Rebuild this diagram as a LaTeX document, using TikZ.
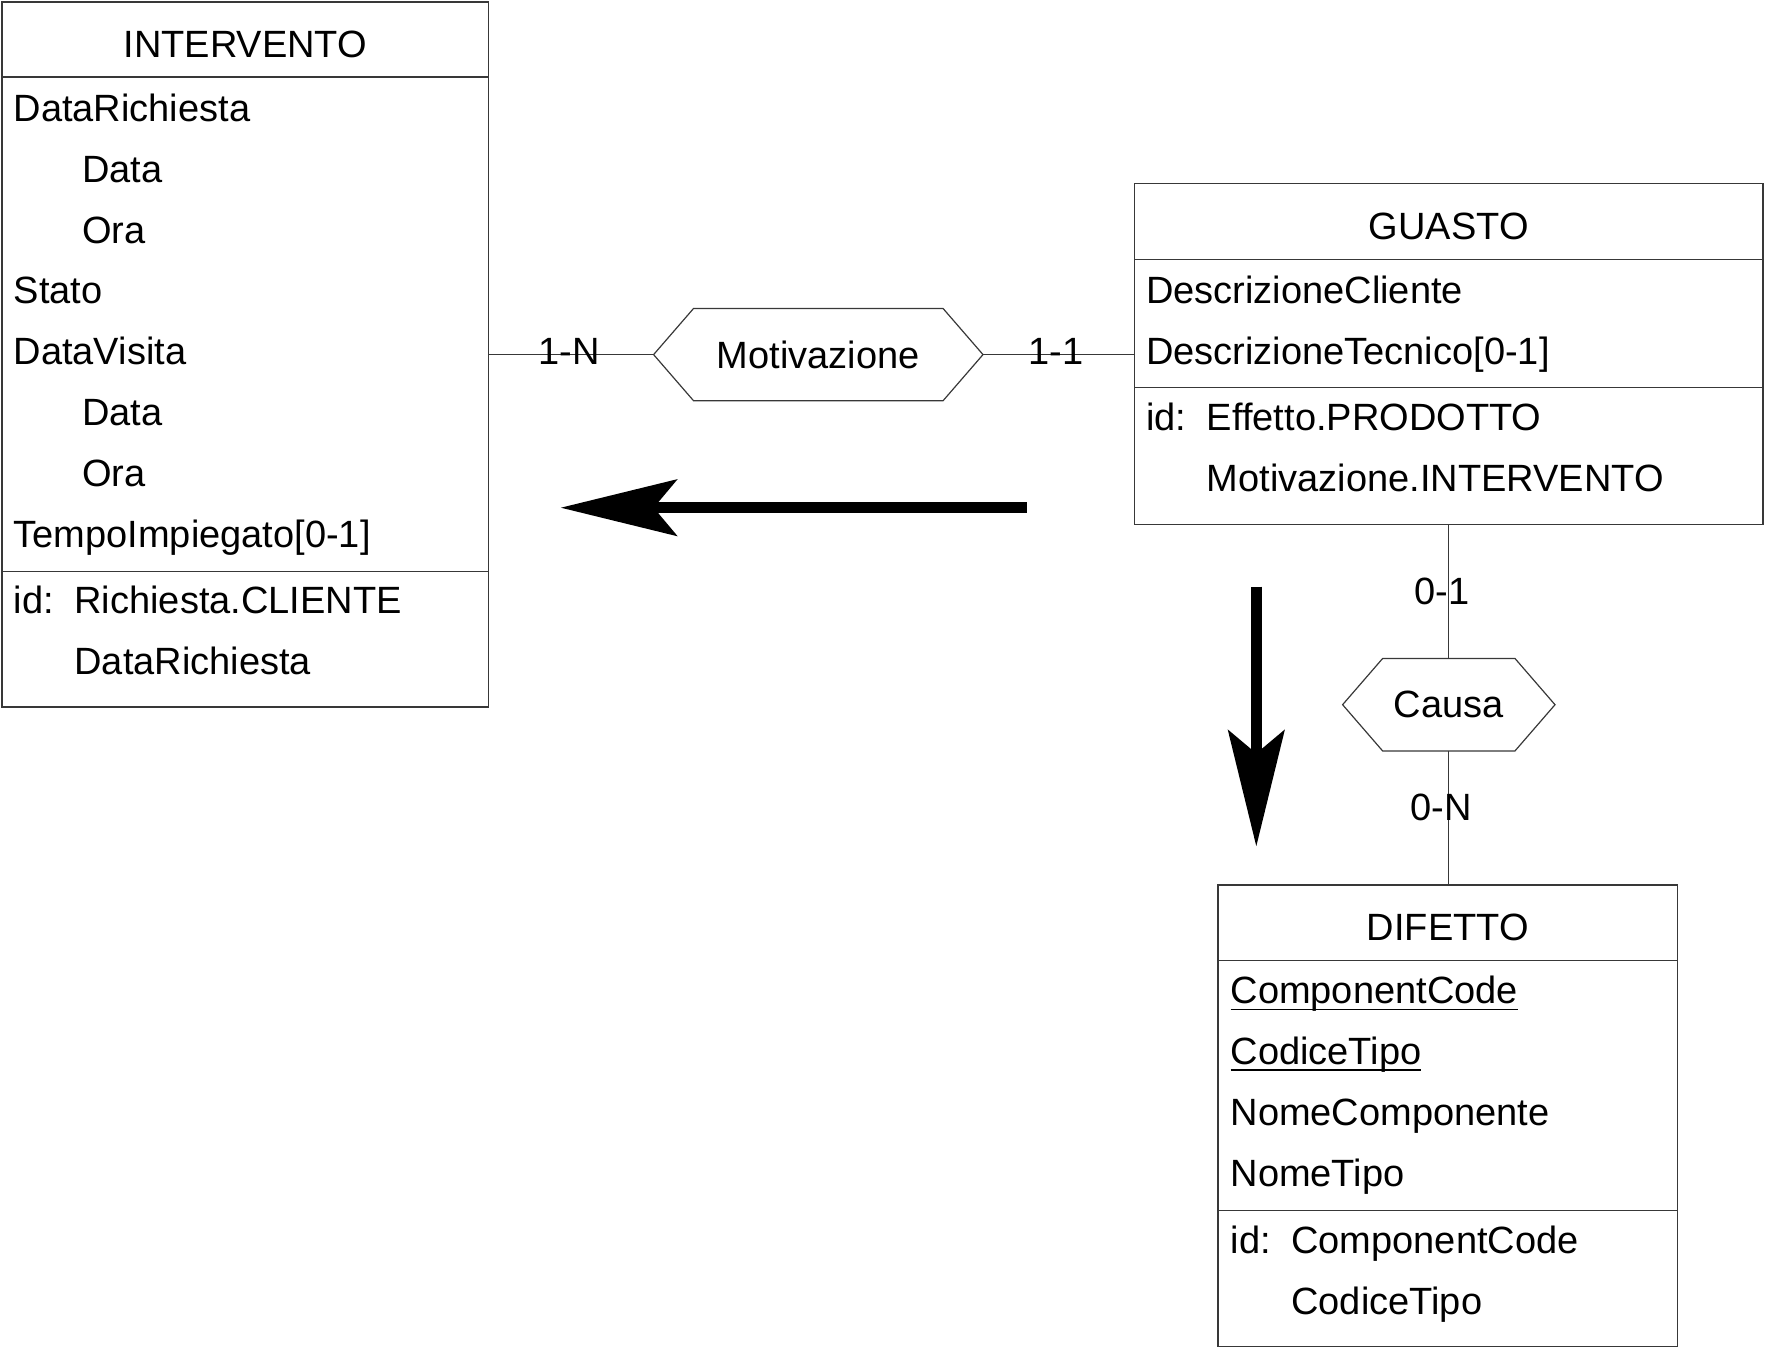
\documentclass[tikz,border=0pt]{standalone}
\usepackage{fontspec}
\setmainfont{Liberation Sans}
\usepackage{tikz}
\usetikzlibrary{arrows.meta,positioning,calc}
\tikzset{
    entbox/.style={draw=black!78, line width=1.4pt, inner sep=0pt},
    sepline/.style={draw=black!78, line width=1.4pt},
    attr/.style={anchor=base west, inner sep=0pt},
    ttl/.style={anchor=base, inner sep=0pt},
    card/.style={anchor=base, inner sep=0pt},
    relnode/.style={inner sep=0pt, minimum height=92pt},
    relline/.style={draw=black!78, line width=1.2pt},
    bigarrow/.style={line width=11pt, -{Stealth[length=116pt,width=56pt,inset=23pt]}}
}
\newcommand{\hexframe}[1]{%
    \draw[relline] (#1.west) -- ([xshift=40pt]#1.north west) -- ([xshift=-40pt]#1.north east)
        -- (#1.east) -- ([xshift=-40pt]#1.south east) -- ([xshift=40pt]#1.south west) -- cycle;}
\newcommand{\sepat}[2]{\draw[sepline] ([yshift=-#2pt]#1.north west) -- ([yshift=-#2pt]#1.north east);}
\newcommand{\idtag}{\makebox[60.8pt][l]{id:}}
\newcommand{\keyline}[1]{\sbox0{#1}\rlap{\rule[-6.5pt]{\wd0}{1.8pt}}\usebox0}

\begin{document}
\begin{tikzpicture}[x=1pt,y=-1pt,font=\fontsize{38}{45}\selectfont]
\useasboundingbox (0,0) rectangle (1765,1349);
% INTERVENTO
\node[entbox, minimum width=486.6pt, minimum height=705pt] (intervento) at (245.3,354.5) {};
\sepat{intervento}{75.7} \sepat{intervento}{569.9}
\node[ttl] (int-t) at (245.3,57.2) {INTERVENTO};
\foreach \x/\t [count=\n] in {13.5/DataRichiesta,82/Data,82/Ora,13.5/Stato,13.5/DataVisita,82/Data,82/Ora,13.5/TempoImpiegato[0-1]}
    {\node[attr] (int\n) at (\x,60.6+60.8*\n) {\t};}
\node[attr] (int-id1) at (13.5,613.3) {\idtag Richiesta.CLIENTE};
\node[attr] (int-id2) at (74.3,674.1) {DataRichiesta};
% GUASTO
\node[entbox, minimum width=628.1pt, minimum height=341.1pt] (guasto) at (1448.8,354.1) {};
\sepat{guasto}{76.5} \sepat{guasto}{204.9}
\node[ttl] (gua-t) at (1448.8,239.6) {GUASTO};
\node[attr] (gua1) at (1146,303.7) {DescrizioneCliente};
\node[attr] (gua2) at (1146,364.5) {DescrizioneTecnico[0-1]};
\node[attr] (gua-id1) at (1146,430.9) {\idtag Effetto.PRODOTTO};
\node[attr] (gua-id2) at (1206.7,491.7) {Motivazione.INTERVENTO};
% DIFETTO
\node[entbox, minimum width=459.3pt, minimum height=461.6pt] (difetto) at (1447.7,1115.6) {};
\sepat{difetto}{76.5} \sepat{difetto}{326.5}
\node[ttl] (dif-t) at (1447.7,940.9) {DIFETTO};
\foreach \t [count=\n] in {\keyline{ComponentCode},\keyline{CodiceTipo},NomeComponente,NomeTipo}
    {\node[attr] (dif\n) at (1230.4,943.1+60.8*\n) {\t};}
\node[attr] (dif-id1) at (1230.4,1253.8) {\idtag ComponentCode};
\node[attr] (dif-id2) at (1291.2,1314.6) {CodiceTipo};
% relationships
\node[relnode, minimum width=329pt] (motivazione) at (818.3,354.6) {Motivazione};
\hexframe{motivazione}
\node[relnode, minimum width=212pt] (causa) at (1448.8,704.7) {Causa};
\hexframe{causa}
\draw[relline] (motivazione.west) -- (motivazione.west -| intervento.east);
\draw[relline] (motivazione.east) -- (motivazione.east -| guasto.west);
\draw[relline] (causa.north) -- (causa.north |- guasto.south);
\draw[relline] (causa.south) -- (causa.south |- difetto.north);
\node[card] (c1n) at (569,364) {1-N};
\node[card] (c11) at (1056,364) {1-1};
\node[card] (c01) at (1442,604) {0-1};
\node[card] (c0n) at (1441,820) {0-N};
% arrows
\coordinate (la-tail) at (1026.6,507.7); \coordinate (la-tip) at (560.6,507.7);
\coordinate (da-tail) at (1256.3,586.5); \coordinate (da-tip) at (1256.3,846.5);
\draw[bigarrow] (la-tail) -- (la-tip);
\draw[bigarrow] (da-tail) -- (da-tip);
\end{tikzpicture}
\end{document}
